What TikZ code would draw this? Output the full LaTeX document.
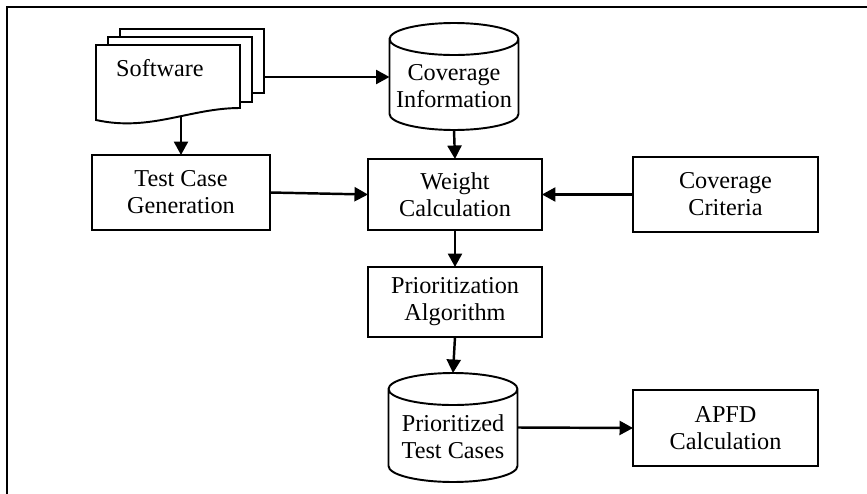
\documentclass[tikz,border=0pt]{standalone}
\usepackage{fontspec}
\setmainfont{Liberation Serif}
\usetikzlibrary{arrows.meta}

% outline of a data store drawn round an empty node
\newcommand\dbcyl[1]{%
  \draw[line width=1.1pt] ([yshift=-0.32cm]#1.north west) -- ([yshift=0.32cm]#1.south west)
    arc[start angle=180,end angle=360,x radius=1.29cm,y radius=0.32cm]
    -- ([yshift=-0.32cm]#1.north east)
    arc[start angle=0,end angle=180,x radius=1.29cm,y radius=0.32cm] -- cycle
    ([yshift=-0.32cm]#1.north west)
    arc[start angle=180,end angle=360,x radius=1.29cm,y radius=0.32cm];}

\begin{document}
\begin{tikzpicture}[x=0.02cm,y=-0.02cm,
    every node/.style={font=\fontsize{13.8}{15.4}\selectfont},
    box/.style={draw,line width=1.1pt,align=center,inner sep=0pt,outer sep=0pt},
    dbbox/.style={inner sep=0pt,outer sep=0pt,minimum width=2.58cm,minimum height=#1},
    arr/.style={-{Triangle[length=0.27cm,width=0.28cm]},line width=1.4pt}]
\useasboundingbox (0,0) rectangle (867,494);

% frame
\draw[line width=1.3pt] (7,494) -- (7,7) -- (867,7);

% the software, a stack of pages
\draw[line width=1.1pt,fill=white] (120,29) rectangle (264,93);
\draw[line width=1.1pt,fill=white] (108,37) rectangle (252,102);
\draw[line width=1.1pt,fill=white] (96,45) -- (240,45) -- (240,108)
    .. controls (190,108) and (150,132) .. (96,120) -- cycle;
\node (software) at (160,68) {Software};
\coordinate (softout) at (264,77);
\coordinate (softbot) at (181,116);

% data stores
\node[dbbox=2.14cm] (covinfo) at (454,76.5) {};
\dbcyl{covinfo}
\node[align=center] (covinfo-txt) at (454,86) {Coverage\\Information};

\node[dbbox=2.18cm] (prioritized) at (453,427.5) {};
\dbcyl{prioritized}
\node[align=center] (prioritized-txt) at (453,437) {Prioritized\\Test Cases};

% process boxes
\node[box,minimum width=3.56cm,minimum height=1.5cm] (tcg) at (181,192.5) {Test Case\\Generation};
\node[box,minimum width=3.48cm,minimum height=1.42cm] (weight) at (455,194.5) {Weight\\Calculation};
\node[box,minimum width=3.7cm,minimum height=1.5cm] (criteria) at (725.5,194.5) {Coverage\\Criteria};
\node[box,minimum width=3.48cm,minimum height=1.4cm] (prioalg) at (455,302) {Prioritization\\Algorithm};
\node[box,minimum width=3.7cm,minimum height=1.52cm] (apfd) at (725.5,428) {APFD\\Calculation};

% flow
\draw[arr] (softout) -- (covinfo.west |- softout);
\draw[arr] (softbot) -- (tcg.north);
\draw[arr] (covinfo.south) -- (weight.north);
\draw[arr] (tcg.east) -- (weight.west);
\draw[arr] (criteria.west) -- (weight.east);
\draw[arr] (weight.south) -- (prioalg.north);
\draw[arr] (prioalg.south) -- (prioritized.north);
\draw[arr] (prioritized.east) -- (apfd.west);

\end{tikzpicture}
\end{document}
